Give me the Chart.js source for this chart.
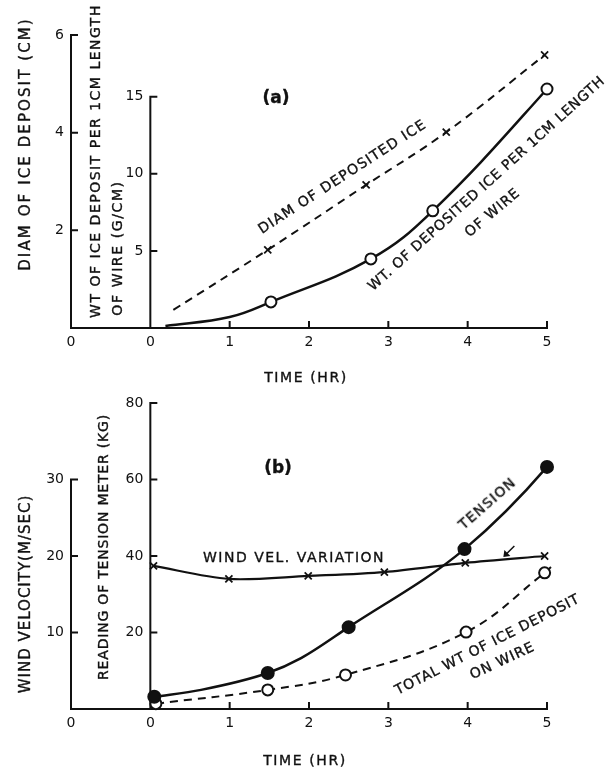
<!DOCTYPE html>
<html>
<head>
<meta charset="utf-8">
<script src="https://cdn.jsdelivr.net/npm/chart.js@4"></script>
<style>
  html, body { margin: 0; padding: 0; background: #fff; }
  #wrap { position: relative; width: 613px; height: 771px; overflow: hidden; font-family: "DejaVu Sans", sans-serif; color: #111; }
  #wrap canvas { position: absolute; left: 0; }
  #top { top: 0; }
  #bot { top: 385px; }
  .lbl { position: absolute; white-space: nowrap; line-height: 1; -webkit-text-stroke: 0.35px #111; }
</style>
</head>
<body>
<div id="wrap">
  <canvas id="top" width="613" height="385"></canvas>
  <canvas id="bot" width="613" height="386"></canvas>
</div>
<script>
// time axis (both panels) - the first "0" belongs to the outer y axis
const timeTicks = [-1, 0, 1, 2, 3, 4, 5];
const timeTickLabels = ['0', '0', '1', '2', '3', '4', '5'];

// (a) diameter of deposited ice, cm
const diamTicks = [2, 4, 6];
const diamTime = [0.29, 1.48, 2.72, 3.73, 4.97];
const diamCm   = [0.37, 1.6, 2.93, 4.01, 5.59];
const diamMark = [0, 1, 1, 1, 1];

// (a) weight of deposited ice per 1 cm of wire, g/cm
const wtTicks = [5, 10, 15];
const wtTime = [0.19, 1.0, 1.52, 2.78, 3.56, 5.0, 5.19];
const wtGcm  = [0.13, 0.71, 1.69, 4.48, 7.6, 15.5, 16.9];
const wtMark = [0, 0, 1, 1, 1, 1, 0];

// (b) wind velocity, m/sec
const windTicks = [10, 20, 30];
const windTime = [0.04, 0.99, 1.99, 2.95, 3.97, 4.97];
const windMs   = [18.7, 17.0, 17.4, 17.9, 19.1, 20.0];

// (b) tension meter reading, kg
const tensionTicks = [20, 40, 60, 80];
const tensionTime = [0.05, 0.64, 1.48, 1.9, 2.5, 3.96, 5.0, 5.2];
const tensionKg   = [3.2, 5.0, 9.4, 13.3, 21.4, 41.8, 63.3, 68.8];
const tensionMark = [1, 0, 1, 0, 1, 1, 1, 0];

// (b) total weight of ice deposit on wire (read on the kg scale)
const totalTime = [0.07, 1.48, 2.46, 3.98, 4.97, 5.05];
const totalKg   = [1.4, 5.0, 8.9, 20.1, 35.6, 37.1];
const totalMark = [1, 1, 1, 1, 1, 0];

const ink = '#111';
const tickFont = { family: 'DejaVu Sans', size: 14 };

function pts(xs, ys) { return xs.map((x, i) => ({ x: x, y: ys[i] })); }

// axis lines and inward tick marks, drawn from the chart's own scales
const handAxes = {
  id: 'handAxes',
  beforeDatasetsDraw(chart, args, opts) {
    const ctx = chart.ctx;
    const xs = chart.scales.x;
    const yb = chart.chartArea.bottom;
    ctx.save();
    ctx.strokeStyle = ink;
    ctx.lineWidth = 2;
    ctx.beginPath();
    ctx.moveTo(xs.getPixelForValue(xs.min), yb);
    ctx.lineTo(xs.getPixelForValue(xs.max) + 1, yb);
    xs.ticks.forEach(t => {
      if (t.value > 0) {
        const px = xs.getPixelForValue(t.value);
        ctx.moveTo(px, yb);
        ctx.lineTo(px, yb - 7);
      }
    });
    ctx.stroke();
    (opts.axes || []).forEach(a => {
      const ys = chart.scales[a.id];
      const px = xs.getPixelForValue(a.at);
      ctx.beginPath();
      ctx.moveTo(px, yb + 1);
      ctx.lineTo(px, ys.getPixelForValue(a.top) - 1);
      ys.ticks.forEach(t => {
        const py = ys.getPixelForValue(t.value);
        ctx.moveTo(px, py);
        ctx.lineTo(px + 7, py);
      });
      ctx.stroke();
    });
    ctx.restore();
  },
  afterDatasetsDraw(chart, args, opts) {
    if (!opts.arrow) return;
    const a = opts.arrow;
    const ctx = chart.ctx;
    const px = chart.scales.x.getPixelForValue(a.x);
    const py = chart.scales[a.id].getPixelForValue(a.y) - 2;
    ctx.save();
    ctx.strokeStyle = ink;
    ctx.fillStyle = ink;
    ctx.lineWidth = 1.5;
    ctx.beginPath();
    ctx.moveTo(px + 11, py - 11);
    ctx.lineTo(px + 2, py - 2);
    ctx.stroke();
    ctx.beginPath();
    ctx.moveTo(px, py);
    ctx.lineTo(px + 1, py - 7);
    ctx.lineTo(px + 7, py - 1);
    ctx.closePath();
    ctx.fill();
    ctx.restore();
  }
};

function xScale(yId) {
  return {
    type: 'linear', min: -1, max: 5,
    position: { [yId]: 0 },
    grid: { display: false, drawTicks: false },
    border: { display: false },
    afterBuildTicks: s => { s.ticks = timeTicks.map(v => ({ value: v })); },
    ticks: { color: ink, font: tickFont, padding: 6, maxRotation: 0, autoSkip: false,
             callback: (v, i) => timeTickLabels[i] }
  };
}

// labels of an axis placed inside the plot sit right-aligned on the axis line,
// so a trailing en space keeps them clear of it
function yScale(max, at, tickList) {
  return {
    type: 'linear', min: 0, max: max,
    position: { x: at },
    grid: { display: false, drawTicks: false },
    border: { display: false },
    afterBuildTicks: s => { s.ticks = tickList.map(v => ({ value: v })); },
    ticks: { color: ink, font: tickFont, callback: v => v + '\u2002' }
  };
}

function lineSet(data, yId, opt) {
  return Object.assign({
    data: data, yAxisID: yId, xAxisID: 'x',
    borderColor: ink, borderWidth: 2.5, pointBorderColor: ink,
    pointBorderWidth: 2, pointBackgroundColor: '#fff',
    tension: 0.4, clip: false, fill: false
  }, opt);
}

const common = {
  responsive: false, animation: false, events: [],
  plugins: { legend: { display: false }, tooltip: { enabled: false } }
};

new Chart(document.getElementById('top'), {
  type: 'line',
  data: {
    datasets: [
      lineSet(pts(diamTime, diamCm), 'yD', {
        borderWidth: 2, borderDash: [8, 6], pointStyle: 'crossRot',
        pointRadius: diamMark.map(m => m * 5), pointBorderWidth: 1.8
      }),
      lineSet(pts(wtTime, wtGcm), 'yW', {
        pointStyle: 'circle', pointRadius: wtMark.map(m => m * 5.5)
      })
    ]
  },
  options: Object.assign({}, common, {
    layout: { padding: { left: 71, right: 66, top: 35, bottom: 57 } },
    scales: { x: xScale('yD'), yD: yScale(6, -1, diamTicks), yW: yScale(19, 0, wtTicks) },
    plugins: Object.assign({}, common.plugins, {
      handAxes: { axes: [{ id: 'yD', at: -1, top: 6 }, { id: 'yW', at: 0, top: 15 }] }
    })
  }),
  plugins: [handAxes]
});

new Chart(document.getElementById('bot'), {
  type: 'line',
  data: {
    datasets: [
      lineSet(pts(windTime, windMs), 'yV', {
        borderWidth: 2.2, pointStyle: 'crossRot', pointRadius: 5, pointBorderWidth: 1.8,
        tension: 0.3
      }),
      lineSet(pts(tensionTime, tensionKg), 'yT', {
        pointStyle: 'circle', pointRadius: tensionMark.map(m => m * 6),
        pointBackgroundColor: ink, cubicInterpolationMode: 'monotone'
      }),
      lineSet(pts(totalTime, totalKg), 'yT', {
        borderWidth: 2, borderDash: [8, 6], pointStyle: 'circle',
        pointRadius: totalMark.map(m => m * 5.5)
      })
    ]
  },
  options: Object.assign({}, common, {
    layout: { padding: { left: 71, right: 66, top: 18, bottom: 62 } },
    scales: { x: xScale('yT'), yV: yScale(40, -1, windTicks), yT: yScale(80, 0, tensionTicks) },
    plugins: Object.assign({}, common.plugins, {
      handAxes: {
        axes: [{ id: 'yV', at: -1, top: 30 }, { id: 'yT', at: 0, top: 80 }],
        arrow: { id: 'yV', x: 4.45, y: 19.6 }
      }
    })
  }),
  plugins: [handAxes]
});

// titles and curve labels: text, centre x, centre y, rotation, size, letter spacing
const labels = [
  ['DIAM OF ICE DEPOSIT (CM)', 25, 144, -90, 15, 2.1],
  ['WT OF ICE DEPOSIT PER 1CM LENGTH', 95, 161, -90, 14, 1.5],
  ['OF WIRE (G/CM)', 117, 248, -90, 14, 1.6],
  ['(a)', 276, 97, 0, 17, 0],
  ['DIAM OF DEPOSITED ICE', 342, 176, -33, 14, 1.2],
  ['WT. OF DEPOSITED ICE PER 1CM LENGTH', 486, 183, -42, 14, 0.7],
  ['OF WIRE', 492, 212, -40, 14, 1],
  ['TIME (HR)', 306, 377, 0, 14, 1.6],
  ['WIND VELOCITY(M/SEC)', 25, 594, -90, 15, 1],
  ['READING OF TENSION METER (KG)', 103, 547, -90, 14, 0.8],
  ['(b)', 278, 467, 0, 17, 0],
  ['WIND  VEL. VARIATION', 294, 557, 0, 14, 1.5],
  ['TENSION', 487, 503, -41, 14, 1.2],
  ['TOTAL  WT OF ICE DEPOSIT', 487, 644, -27, 14, 0.8],
  ['ON WIRE', 502, 660, -25, 14, 1],
  ['TIME (HR)', 305, 760, 0, 14, 1.6]
];

const wrap = document.getElementById('wrap');
labels.forEach(([text, cx, cy, rot, size, sp]) => {
  const d = document.createElement('div');
  d.className = 'lbl';
  d.textContent = text;
  d.style.left = cx + 'px';
  d.style.top = cy + 'px';
  d.style.fontSize = size + 'px';
  d.style.letterSpacing = sp + 'px';
  if (text[0] === '(' && text.length === 3) d.style.fontWeight = 'bold';
  d.style.transform = 'translate(-50%, -50%) rotate(' + rot + 'deg)';
  wrap.appendChild(d);
});
</script>
</body>
</html>
